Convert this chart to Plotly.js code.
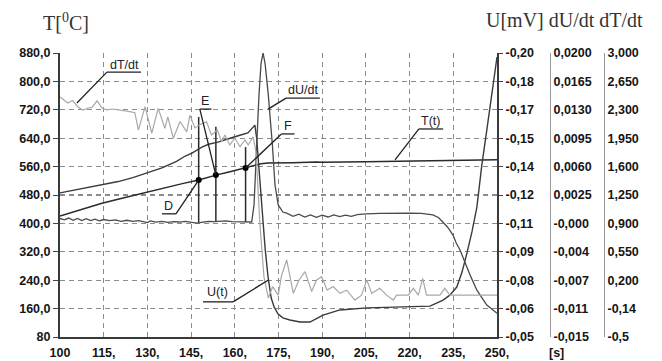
<!DOCTYPE html>
<html>
<head>
<meta charset="utf-8">
<script src="https://cdn.plot.ly/plotly-3.0.1.min.js"></script>
<style>html,body{margin:0;padding:0;background:#fff;}#chart{width:662px;height:361px;}</style>
</head>
<body>
<div id="chart"></div>
<script>
// ---- T(t) [°C] ----
const tT = [100, 107, 114.4, 122, 129.9, 137, 142, 147.6, 150, 153.5, 158, 163.7, 166.9, 169, 171.4, 175, 180, 188, 190, 205, 220, 235, 250];
const T_C = [421, 438, 457, 472, 488, 503, 512, 522, 528, 536, 545, 556, 564, 568, 570, 570, 571, 573, 572, 574, 576, 578, 579];

// ---- U(t) [mV] ----
const tU = [100, 105, 110, 114.8, 120, 125, 129.9, 135, 140, 143, 145.3, 148.7, 151, 154.2, 157, 160, 162, 164.5, 166, 166.9, 167.5, 168.6, 169.5, 170.4, 171.4, 172.5, 173.5, 174.8, 176.5, 178.9, 182.4, 185.8, 190.3, 196.1, 205.4, 219, 227, 231.5, 233.8, 236.2, 238, 239.7, 241.4, 243.1, 244.8, 246.5, 248.3, 250];
const U_mV = [-0.1261, -0.1276, -0.1288, -0.1303, -0.1321, -0.1342, -0.1366, -0.1393, -0.1428, -0.1456, -0.1471, -0.1503, -0.1518, -0.1529, -0.1543, -0.1559, -0.1567, -0.1578, -0.1603, -0.1619, -0.1550, -0.1329, -0.1138, -0.0969, -0.0819, -0.0706, -0.0659, -0.0622, -0.0601, -0.0590, -0.0579, -0.0579, -0.0616, -0.0643, -0.0654, -0.0659, -0.0663, -0.0695, -0.0721, -0.0764, -0.0843, -0.0944, -0.1055, -0.1186, -0.1409, -0.1593, -0.1779, -0.1979];

// ---- dU/dt ----
const tdU = [100, 101.5, 103, 104.5, 106, 107.5, 109, 110.5, 112, 113.5, 115, 117, 119, 121, 123, 125, 127, 129, 130, 131, 133, 135, 137, 139, 141, 143, 145, 147, 149, 151, 153, 155, 157, 159, 161, 163, 164.5, 165.8, 166.6, 167.5, 168.3, 169.0, 169.7, 170.4, 171.5, 172.9, 173.8, 174.9, 176.5, 178, 180, 182, 184, 186, 188, 190, 192, 194, 196, 198, 200, 202, 205, 210, 215, 220, 224, 226.3, 228, 230, 231.5, 233, 234.9, 236, 237.3, 238.5, 239.6, 241, 243.1, 245, 246.5, 248, 250];
const dUdt = [-0.00039, -0.00056, -0.00034, -0.00061, -0.00039, -0.00065, -0.00043, -0.00065, -0.00048, -0.00069, -0.00052, -0.00065, -0.00056, -0.00074, -0.00061, -0.00074, -0.00065, -0.00078, -0.00091, -0.00069, -0.00083, -0.00074, -0.00087, -0.00078, -0.00083, -0.00074, -0.00087, -0.00096, -0.00083, -0.00074, -0.00078, -0.00074, -0.00069, -0.00078, -0.00078, -0.00083, -0.00087, -0.00083, 0.00128, 0.00867, 0.01484, 0.01869, 0.02, 0.01869, 0.01484, 0.00867, 0.00373, 0.00128, 0.0004, 0.00023, -0.00013, 0.00014, -0.00021, 0.00005, -0.00026, 0.00001, -0.00021, 0.00005, -0.00017, 0.00001, -0.00013, 0.00009, 0.00018, 0.00023, 0.00027, 0.00027, 0.00023, 0.00018, 0.00005, -0.0003, -0.00083, -0.00144, -0.00244, -0.00341, -0.00428, -0.00538, -0.00638, -0.00756, -0.00923, -0.01028, -0.01106, -0.0115, -0.01207];

// ---- dT/dt ----
const tdT = [100, 101.2, 102.7, 104.3, 106.2, 107.9, 109.6, 111, 112.7, 114.4, 116, 118, 120, 122, 124, 125.7, 126.9, 129.2, 131.5, 133.7, 136, 137, 138.9, 141.2, 143.5, 144.6, 146.3, 148.2, 150.3, 152, 154, 155.5, 156.6, 158.3, 160, 161.8, 163.5, 164.6, 166.3, 167.3, 168.6, 170, 171.5, 173, 174.9, 176, 177.8, 180.1, 182, 184.1, 186.4, 188, 189.8, 191.7, 193.8, 196.1, 198.4, 201.2, 203.5, 205.3, 207, 209.8, 212.1, 214.4, 215.5, 219.5, 221.3, 223, 224.5, 225.8, 230.4, 232.1, 233.8, 250];
const dTdt = [2.4575, 2.4225, 2.3831, 2.4138, 2.335, 2.2956, 2.3219, 2.33, 2.41, 2.3219, 2.30, 2.31, 2.30, 2.295, 2.2781, 2.265, 2.0506, 2.3394, 2.0113, 2.3175, 2.0725, 2.2125, 1.95, 2.1556, 2.0288, 2.2344, 2.0769, 2.12, 2.1513, 1.9894, 2.05, 1.9063, 1.9894, 1.8669, 1.95, 1.845, 1.9281, 1.8669, 1.9675, 1.775, 0.9, 0.2438, -0.0188, 0.12, 0.0163, 0.25, 0.4494, 0.0381, 0.2, 0.305, 0.06, 0.2, 0.2438, 0.0775, 0.1213, 0.0381, 0.0775, -0.045, 0.0163, 0.2044, 0.0381, 0.0994, 0.0163, -0.045, 0.0163, 0.0163, 0.0994, 0.0163, 0.2219, 0.0163, 0.0163, 0.0994, 0.0163, 0.0163];

// ---- events D, E, F ----
const eventTimes = [147.6, 153.5, 163.7];
const eventT = [522, 536, 556];
const eventTop = [700, 672, 615];
const eventBase = [402, 405, 404];

// ---- tick labels ----
const xTicks = [100, 115, 130, 145, 160, 175, 190, 205, 220, 235, 250];
const xTickText = ["100", "115,", "130,", "145,", "160,", "175,", "190,", "205,", "220,", "235,", "250,"];
const tTicks = [80, 160, 240, 320, 400, 480, 560, 640, 720, 800, 880];
const tTickText = ["80", "160,0", "240,0", "320,0", "400,0", "480,0", "560,0", "640,0", "720,0", "800,0", "880,0"];
const uTicks = [-0.200, -0.185, -0.170, -0.155, -0.140, -0.125, -0.110, -0.095, -0.080, -0.065, -0.050];
const uTickText = ["-0,20", "-0,18", "-0,17", "-0,15", "-0,14", "-0,12", "-0,11", "-0,09", "-0,08", "-0,06", "-0,05"];
const duTicks = [0.0200, 0.0165, 0.0130, 0.0095, 0.0060, 0.0025, -0.0010, -0.0045, -0.0080, -0.0115, -0.0150];
const duTickText = ["0,0200", "0,0165", "0,0130", "0,0095", "0,0060", "0,0025", "-0,000", "-0,004", "-0,007", "-0,011", "-0,015"];
const dtTicks = [3.0, 2.65, 2.30, 1.95, 1.60, 1.25, 0.90, 0.55, 0.20, -0.15, -0.5];
const dtTickText = ["3,000", "2,650", "2,300", "1,950", "1,600", "1,250", "0,900", "0,550", "0,200", "-0,14", "-0,5"];

// ---- curve labels (text, anchor point of leader line, underline span) ----
const labelText = ["dT/dt", "dU/dt", "E", "F", "D", "T(t)", "U(t)"];
const labelX = [122.3, 183.3, 149.9, 178.4, 137.3, 227.3, 154.2];
const labelY = [845, 775, 745, 675, 448, 688, 207];
const ulX0 = [116.1, 177.6, 148.0, 176.0, 135.0, 223.2, 149.1];
const ulX1 = [127.8, 189.2, 152.0, 180.5, 139.8, 231.5, 159.4];
const ulY = [826, 753, 722, 652, 427, 666, 179];
const leadFromX = [116.1, 177.6, 148.0, 176.0, 139.8, 223.2, 159.4];
const leadToX = [105.8, 171.4, 153.5, 163.7, 147.6, 215.0, 171.4];
const leadToY = [739, 722, 536, 556, 522, 579, 240];

const tickFont = {family: "Liberation Sans, Arial, sans-serif", size: 12.5, color: "#151515", weight: "bold"};
const gridStyle = {showgrid: true, gridcolor: "#8c8c8c", gridwidth: 1.2, griddash: "5px,4px"};

const traces = [
  {x: tdT, y: dTdt, yaxis: "y4", mode: "lines", line: {color: "#a8a8a8", width: 1.2}, hoverinfo: "skip"},
  {x: tdU, y: dUdt, yaxis: "y3", mode: "lines", line: {color: "#4a4a4a", width: 1.3}, hoverinfo: "skip"},
  {x: tU, y: U_mV, yaxis: "y2", mode: "lines", line: {color: "#3a3a3a", width: 1.4}, hoverinfo: "skip"},
  {x: tT, y: T_C, yaxis: "y", mode: "lines", line: {color: "#2a2a2a", width: 1.5}, hoverinfo: "skip"}
];
eventTimes.forEach((t, i) => {
  traces.push({x: [t, t], y: [eventBase[i], eventTop[i]], yaxis: "y", mode: "lines",
    line: {color: "#2a2a2a", width: 1.5}, hoverinfo: "skip"});
});
traces.push({x: eventTimes, y: eventT, yaxis: "y", mode: "markers",
  marker: {color: "#000", size: 6}, hoverinfo: "skip"});

const shapes = [];
const annotations = [];
labelText.forEach((txt, i) => {
  shapes.push({type: "line", xref: "x", yref: "y", x0: ulX0[i], x1: ulX1[i], y0: ulY[i], y1: ulY[i], line: {color: "#222", width: 1.3}});
  shapes.push({type: "line", xref: "x", yref: "y", x0: leadFromX[i], x1: leadToX[i], y0: ulY[i], y1: leadToY[i], line: {color: "#222", width: 1.3}});
  annotations.push({xref: "x", yref: "y", x: labelX[i], y: labelY[i], text: txt, showarrow: false,
    font: {family: "Liberation Sans, Arial, sans-serif", size: 12.5, color: "#222"}, xanchor: "center", yanchor: "middle"});
});
annotations.push({xref: "paper", yref: "paper", x: 0.011, y: 1.11, text: "T[<sup>0</sup>C]", showarrow: false,
  font: {family: "Liberation Serif, Times New Roman, serif", size: 20, color: "#333"}, xanchor: "center", yanchor: "middle"});
annotations.push({xref: "paper", yref: "paper", x: 0.9265, y: 1.115, text: "U[mV] dU/dt dT/dt", showarrow: false,
  font: {family: "Liberation Serif, Times New Roman, serif", size: 20, color: "#333"}, xanchor: "center", yanchor: "middle"});
annotations.push({xref: "paper", yref: "paper", x: 0.9136, y: -0.056, text: "[s]", showarrow: false,
  font: tickFont, xanchor: "center", yanchor: "middle"});

const layout = {
  width: 662, height: 361,
  margin: {l: 60, r: 58, t: 53, b: 24},
  paper_bgcolor: "#fff", plot_bgcolor: "#fff",
  showlegend: false,
  xaxis: Object.assign({domain: [0, 0.8033], range: [100, 250], tickvals: xTicks, ticktext: xTickText,
    showline: true, linecolor: "#3a3a3a", linewidth: 2, ticks: "", zeroline: false, tickfont: tickFont,
    ticklabelstandoff: 3, automargin: false}, gridStyle),
  yaxis: Object.assign({range: [80, 880], tickvals: tTicks, ticktext: tTickText, showline: true, linecolor: "#3a3a3a",
    linewidth: 2, ticks: "outside", ticklen: 5, tickcolor: "#444", zeroline: false, tickfont: tickFont, automargin: false}, gridStyle),
  yaxis2: {overlaying: "y", side: "right", anchor: "x", range: [-0.05, -0.20], tickvals: uTicks, ticktext: uTickText,
    showgrid: false, showline: true, linecolor: "#3a3a3a", linewidth: 2, ticks: "outside", ticklen: 4, tickcolor: "#444",
    zeroline: false, tickfont: tickFont, automargin: false},
  yaxis3: {overlaying: "y", side: "right", anchor: "free", position: 0.9007, range: [-0.015, 0.02], tickvals: duTicks, ticktext: duTickText,
    showgrid: false, showline: true, linecolor: "#999", linewidth: 1, ticks: "", zeroline: false, tickfont: tickFont, automargin: false},
  yaxis4: {overlaying: "y", side: "right", anchor: "free", position: 1.0, range: [-0.5, 3.0], tickvals: dtTicks, ticktext: dtTickText,
    showgrid: false, showline: true, linecolor: "#999", linewidth: 1, ticks: "", zeroline: false, tickfont: tickFont, automargin: false},
  shapes: shapes,
  annotations: annotations
};

Plotly.newPlot("chart", traces, layout, {staticPlot: true, displayModeBar: false});
</script>
</body>
</html>
